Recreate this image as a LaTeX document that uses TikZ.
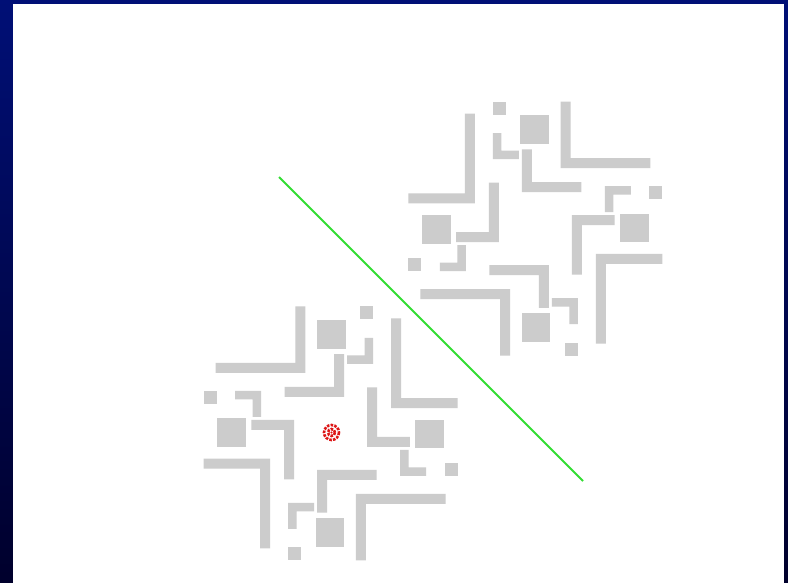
\documentclass[tikz,border=0pt]{standalone}
\usepackage{tikz}
\definecolor{FrameBlue}{HTML}{000F76}
\definecolor{FrameDark}{HTML}{00002C}
\definecolor{WallGray}{HTML}{CCCCCC}
\definecolor{MirrorGreen}{HTML}{33DD33}
\definecolor{SpotRed}{HTML}{DD1515}

% one quarter of the pinwheel, around its centre (y grows downwards)
\newcommand{\wallquarter}{%
  \fill[wall] (-70.5,-115) rectangle (-60.5,-25.3) (-127,-35.3) rectangle (-60.5,-25.3);
  \fill[wall] (-113.3,-13.6) rectangle (-84.7,15);
  \fill[wall] (-46.5,-46) rectangle (-36.5,13.5) (-79.3,3.5) rectangle (-36.5,13.5);
  \fill[wall] (-127,29.5) rectangle (-114,42.5);
  \fill[wall] (-78,16.5) rectangle (-69.5,42.5) (-95.5,34) rectangle (-69.5,42.5);
}

\begin{document}
\begin{tikzpicture}[x=1pt, y=-1pt, wall/.style={fill=WallGray}, mirror/.style={MirrorGreen, line width=2pt}, spot/.style={SpotRed, line width=2.6pt, dash pattern=on 2.6pt off 1.2pt}]
\useasboundingbox (0,0) rectangle (788,583);
\shade[top color=FrameBlue, bottom color=FrameDark] (0,0) rectangle (788,583);
\fill[white] (12.7,4.5) rectangle (784.3,583);
% upper pattern
\foreach \a in {0,90,180,270}{
  \begin{scope}[shift={(535.4,228.6)}, rotate=\a]
    \wallquarter
  \end{scope}
}
% lower pattern, its mirror image
\foreach \a in {0,90,180,270}{
  \begin{scope}[shift={(330.6,433.4)}, cm={0,-1,-1,0,(0,0)}, rotate=\a]
    \wallquarter
  \end{scope}
}
\coordinate (m1) at (279,177);
\coordinate (m2) at (583,481);
\draw[mirror] (m1) -- (m2);
\coordinate (s) at (331.5,432.5);
\draw[spot] (s) circle (7.5);
\draw[spot] (s) circle (3.5);
\fill[SpotRed] (s) circle (1.2);
\end{tikzpicture}
\end{document}
